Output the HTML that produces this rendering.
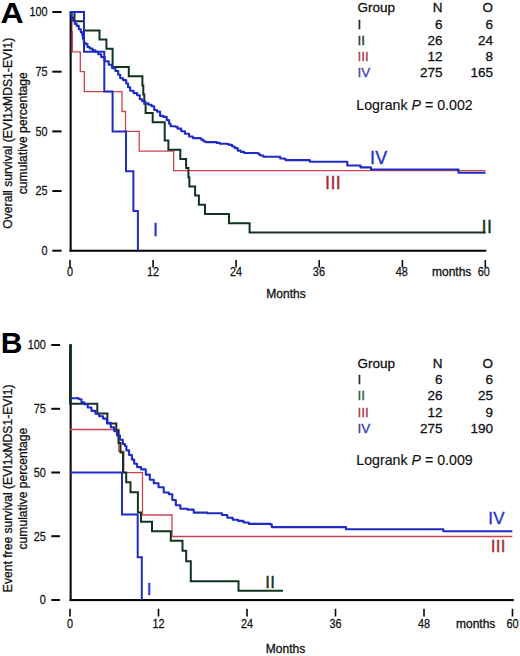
<!DOCTYPE html>
<html><head><meta charset="utf-8"><title>Survival curves</title>
<style>
html,body{margin:0;padding:0;background:#fff;width:520px;height:656px;overflow:hidden;}
svg{display:block;font-family:"Liberation Sans",sans-serif;}
.tk{font-size:12.5px;fill:#111;stroke:#111;stroke-width:0.25px;}
.ax{font-size:12px;fill:#111;stroke:#111;stroke-width:0.3px;}
.lg{font-size:13.5px;fill:#111;stroke:#111;stroke-width:0.3px;}
.lr{font-size:14.2px;fill:#111;stroke:#111;stroke-width:0.15px;}
.pl{font-size:30px;font-weight:bold;fill:#000;}
.cl{font-size:18px;letter-spacing:0.4px;}
.clb{font-size:17px;letter-spacing:0.3px;}
</style></head><body>
<svg width="520" height="656" viewBox="0 0 520 656">
<rect width="520" height="656" fill="#ffffff"/>
<text transform="translate(0.6,22.8) scale(1.07,1)" class="pl">A</text>
<path d="M71.9,12 V31.9 H72.4 V51.8 H80.3 V71.7 H84.3 V91.6 H122 V111.5 H125.5 V131.4 H139.2 V151.1 H173.6 V170.6 H485.6" fill="none" stroke="#cc4450" stroke-width="1.3"/>
<rect x="69.6" y="11.2" width="2.1" height="240.5" fill="#0a0a0a"/>
<rect x="69.6" y="249.7" width="416.7" height="2.1" fill="#0a0a0a"/>
<rect x="52.3" y="11.0" width="9.3" height="2" fill="#0a0a0a"/>
<text transform="translate(47.6,16.4) scale(0.87,1)" text-anchor="end" class="tk">100</text>
<rect x="52.3" y="70.7" width="9.3" height="2" fill="#0a0a0a"/>
<text transform="translate(47.6,76.1) scale(0.87,1)" text-anchor="end" class="tk">75</text>
<rect x="52.3" y="130.4" width="9.3" height="2" fill="#0a0a0a"/>
<text transform="translate(47.6,135.8) scale(0.87,1)" text-anchor="end" class="tk">50</text>
<rect x="52.3" y="190.0" width="9.3" height="2" fill="#0a0a0a"/>
<text transform="translate(47.6,195.4) scale(0.87,1)" text-anchor="end" class="tk">25</text>
<rect x="52.3" y="249.7" width="9.3" height="2" fill="#0a0a0a"/>
<text transform="translate(47.6,255.1) scale(0.87,1)" text-anchor="end" class="tk">0</text>
<rect x="69.2" y="260.0" width="1.6" height="7.5" fill="#0a0a0a"/>
<rect x="152.3" y="260.0" width="1.6" height="7.5" fill="#0a0a0a"/>
<rect x="235.3" y="260.0" width="1.6" height="7.5" fill="#0a0a0a"/>
<rect x="318.4" y="260.0" width="1.6" height="7.5" fill="#0a0a0a"/>
<rect x="401.6" y="260.0" width="1.6" height="7.5" fill="#0a0a0a"/>
<rect x="484.5" y="260.0" width="1.6" height="7.5" fill="#0a0a0a"/>
<text transform="translate(70.0,276.3) scale(0.87,1)" text-anchor="middle" class="tk">0</text>
<text transform="translate(153.1,276.3) scale(0.87,1)" text-anchor="middle" class="tk">12</text>
<text transform="translate(236.1,276.3) scale(0.87,1)" text-anchor="middle" class="tk">24</text>
<text transform="translate(318.9,276.3) scale(0.87,1)" text-anchor="middle" class="tk">36</text>
<text transform="translate(401.8,276.3) scale(0.87,1)" text-anchor="middle" class="tk">48</text>
<text transform="translate(483.8,276.3) scale(0.87,1)" text-anchor="middle" class="tk">60</text>
<text x="432" y="276.3" class="ax">months</text>
<text x="266.3" y="297.6" class="ax">Months</text>
<text transform="translate(12.4,133.2) rotate(-90)" text-anchor="middle" class="ax" style="font-size:12.15px">Overall survival (EVI1xMDS1-EVI1)</text>
<text transform="translate(27,133.2) rotate(-90)" text-anchor="middle" class="ax" style="font-size:12.15px">cumulative percentage</text>
<path d="M70,12 H74.5 V21.2 H84 V30.4 H99.5 V39.5 H106.4 V48.7 H112.6 V67.1 H128.8 V76.3 H142.4 V85.4 H143.3 V94.6 H144.3 V103.8 H145.6 V113 H152.7 V122.2 H164.7 V140.5 H168.4 V149.7 H180.3 V158.9 H186.1 V168.1 H188.4 V177.3 H189.4 V186.4 H195.1 V195.6 H198.9 V204.8 H205 V214 H229 V223.2 H249.6 V232.5 H485.6" fill="none" stroke="#12341e" stroke-width="2"/>
<path d="M70,12 H84 V51.8 H104.3 V91.6 H112.6 V131.4 H126 V171.2 H133.4 V211 H137.9 V250.7" fill="none" stroke="#1e2cc4" stroke-width="2"/>
<path d="M70.5,12.0 H70.8 V13.5 H71.2 H71.7 V17.6 H72.2 H73.1 V20.8 H73.9 H74.8 V23.9 H75.7 H76.7 V25.9 H77.6 H78.8 V29.2 H80.0 H80.8 V32.1 H81.5 H82.2 V35.0 H82.9 V38.8 H83.4 H83.8 V42.7 H84.3 H85.5 V44.1 H86.8 H87.5 V47.0 H88.2 H89.7 V48.5 H91.1 H92.5 V50.4 H94.0 H95.4 V51.8 H96.8 H98.2 V54.2 H99.7 H101.2 V57.1 H102.6 H104.7 V61.3 H106.7 H108.7 V64.7 H110.6 H112.0 V68.1 H113.5 H115.4 V71.0 H117.3 H118.2 V74.8 H119.2 H120.2 V78.2 H121.2 H123.1 V80.1 H125.0 H126.2 V83.5 H127.4 H128.1 V87.3 H128.8 H130.2 V90.7 H131.7 H133.6 V93.1 H135.6 H137.1 V95.2 H138.7 H139.8 V99.3 H141.0 H142.2 V101.2 H143.3 H145.2 V103.4 H147.0 H148.5 V104.8 H150.0 H151.6 V106.3 H153.2 H154.2 V110.0 H155.3 H156.9 V111.6 H158.5 H160.1 V115.9 H161.6 H163.4 V116.9 H165.3 H166.7 V120.1 H168.0 H169.1 V123.8 H170.1 H170.6 V126.2 H171.2 H175.4 V126.7 H177.5 V128.6 H179.6 H181.2 V131.2 H182.8 H184.9 V133.8 H187.0 H189.1 V136.5 H191.2 H192.8 V138.1 H194.4 H200.8 V138.6 H201.2 V139.8 H201.7 H203.4 V141.2 H205.1 H205.4 V142.1 H205.8 H215.2 V142.1 H216.6 V142.9 H217.9 H219.9 V143.8 H221.9 H227.3 V144.1 H229.0 V144.9 H230.7 H232.1 V146.5 H233.4 H234.7 V148.1 H236.0 H237.7 V150.6 H239.4 H240.8 V151.9 H242.1 H244.1 V153.0 H246.1 H257.5 V153.3 H258.8 V154.6 H260.0 H260.6 V155.5 H261.3 H263.4 V156.8 H265.4 H279.5 V156.8 H280.2 V158.5 H280.9 H284.2 V158.9 H285.5 V160.1 H286.9 H309.1 V160.1 H309.8 V161.7 H310.5 H346.1 V161.7 H347.3 V165.5 H348.5 H360.5 V165.5 V167.4 H361.0 H371.0 V167.4 V169.5 H371.5 H458.5 V169.5 V172.7 H458.7 H485.6 V172.7" fill="none" stroke="#1e2cc4" stroke-width="2.1" stroke-linejoin="round"/>
<text x="155.7" y="236" text-anchor="middle" class="cl" fill="#2232c8" stroke="#2232c8" stroke-width="0.35">I</text>
<text x="333.1" y="189" text-anchor="middle" class="cl" fill="#a8283a" stroke="#a8283a" stroke-width="0.35">III</text>
<text x="378.8" y="164" text-anchor="middle" class="cl" fill="#2232c8" stroke="#2232c8" stroke-width="0.35">IV</text>
<text x="487" y="232.7" text-anchor="middle" class="cl" fill="#12341e" stroke="#12341e" stroke-width="0.35">II</text>
<text x="357.4" y="12.4" class="lg">Group</text>
<text x="442.6" y="12.4" class="lg" text-anchor="end">N</text>
<text x="493" y="12.4" class="lg" text-anchor="end">O</text>
<text x="357.4" y="28.7" class="lg" style="fill:#111;stroke:#111">I</text>
<text x="442.6" y="28.7" class="lg" text-anchor="end">6</text>
<text x="493" y="28.7" class="lg" text-anchor="end">6</text>
<text x="357.4" y="44.9" class="lg" style="fill:#1a3424;stroke:#1a3424">II</text>
<text x="442.6" y="44.9" class="lg" text-anchor="end">26</text>
<text x="493" y="44.9" class="lg" text-anchor="end">24</text>
<text x="357.4" y="61.1" class="lg" style="fill:#b03c50;stroke:#b03c50">III</text>
<text x="442.6" y="61.1" class="lg" text-anchor="end">12</text>
<text x="493" y="61.1" class="lg" text-anchor="end">8</text>
<text x="357.4" y="77.4" class="lg" style="fill:#3a46b4;stroke:#3a46b4">IV</text>
<text x="442.6" y="77.4" class="lg" text-anchor="end">275</text>
<text x="493" y="77.4" class="lg" text-anchor="end">165</text>
<text x="356.3" y="109.5" class="lr">Logrank <tspan font-style="italic">P</tspan> = 0.002</text>
<text x="0.8" y="352.5" class="pl">B</text>
<rect x="69.6" y="344.2" width="2.1" height="256.8" fill="#0a0a0a"/>
<rect x="69.6" y="599.0" width="444.2" height="2.1" fill="#0a0a0a"/>
<rect x="51.3" y="344.0" width="8.8" height="2" fill="#0a0a0a"/>
<text transform="translate(45.8,349.4) scale(0.87,1)" text-anchor="end" class="tk">100</text>
<rect x="51.3" y="407.8" width="8.8" height="2" fill="#0a0a0a"/>
<text transform="translate(45.8,413.1) scale(0.87,1)" text-anchor="end" class="tk">75</text>
<rect x="51.3" y="471.5" width="8.8" height="2" fill="#0a0a0a"/>
<text transform="translate(45.8,476.9) scale(0.87,1)" text-anchor="end" class="tk">50</text>
<rect x="51.3" y="535.2" width="8.8" height="2" fill="#0a0a0a"/>
<text transform="translate(45.8,540.6) scale(0.87,1)" text-anchor="end" class="tk">25</text>
<rect x="51.3" y="599.0" width="8.8" height="2" fill="#0a0a0a"/>
<text transform="translate(45.8,604.4) scale(0.87,1)" text-anchor="end" class="tk">0</text>
<rect x="69.2" y="608.8" width="1.6" height="7.7" fill="#0a0a0a"/>
<rect x="157.7" y="608.8" width="1.6" height="7.7" fill="#0a0a0a"/>
<rect x="246.2" y="608.8" width="1.6" height="7.7" fill="#0a0a0a"/>
<rect x="334.7" y="608.8" width="1.6" height="7.7" fill="#0a0a0a"/>
<rect x="423.2" y="608.8" width="1.6" height="7.7" fill="#0a0a0a"/>
<rect x="511.7" y="608.8" width="1.6" height="7.7" fill="#0a0a0a"/>
<rect x="69.6" y="344.2" width="2.1" height="60" fill="#12341e"/>
<text transform="translate(70.0,627.5) scale(0.87,1)" text-anchor="middle" class="tk">0</text>
<text transform="translate(158.5,627.5) scale(0.87,1)" text-anchor="middle" class="tk">12</text>
<text transform="translate(247.0,627.5) scale(0.87,1)" text-anchor="middle" class="tk">24</text>
<text transform="translate(335.5,627.5) scale(0.87,1)" text-anchor="middle" class="tk">36</text>
<text transform="translate(424.0,627.5) scale(0.87,1)" text-anchor="middle" class="tk">48</text>
<text transform="translate(512.5,627.5) scale(0.87,1)" text-anchor="middle" class="tk">60</text>
<text x="456" y="627.5" class="ax">months</text>
<text x="265.8" y="652.8" class="ax">Months</text>
<text transform="translate(12.2,488.3) rotate(-90)" text-anchor="middle" class="ax" style="font-size:12.15px">Event free survival (EVI1xMDS1-EVI1)</text>
<text transform="translate(26.6,488.6) rotate(-90)" text-anchor="middle" class="ax" style="font-size:12.1px">cumulative percentage</text>
<path d="M70,429.5 H118.8 V451.3 H123.8 V472.6 H142.5 V515 H172 V536.5 H512.3" fill="none" stroke="#cc4450" stroke-width="1.3"/>
<path d="M70,345 V403.7 H97.3 V413.6 H107.4 V423.4 H116.3 V430.5 H118.5 V443.1 H120.5 V452.6 H123 V472.5 H126.2 V482.3 H130.5 V492.2 H137.9 V512.5 H141 V521.8 H152 V531.2 H170.8 V540.8 H182.5 V550.8 H186.2 V561.2 H190.8 V581.2 H238.5 V590.8 H283" fill="none" stroke="#12341e" stroke-width="2"/>
<path d="M70,472.5 H122 V514.5 H137.7 V557.3 H141.8 V600" fill="none" stroke="#1e2cc4" stroke-width="2"/>
<path d="M70.5,398.2 H76.8 V398.0 H78.0 V398.5 H79.0 V399.3 H80.0 H81.5 V402.2 H82.9 H84.3 V404.1 H85.8 H87.7 V407.5 H89.6 H91.5 V410.9 H93.5 H95.4 V413.8 H97.3 H99.2 V416.2 H101.2 H103.1 V418.6 H105.0 H106.9 V422.9 H108.8 H110.8 V427.2 H112.7 H114.2 V431.1 H115.6 H117.0 V435.4 H118.5 H119.9 V439.7 H121.3 H122.8 V444.0 H124.2 H124.9 V446.0 H125.6 H126.4 V450.4 H127.3 H129.1 V455.0 H130.8 H131.9 V459.6 H133.1 H134.2 V463.7 H135.4 H137.1 V467.1 H138.8 H141.2 V469.4 H143.5 H145.8 V474.6 H148.1 H149.8 V479.8 H151.5 H153.8 V483.3 H156.2 H158.5 V487.3 H160.8 H163.7 V492.5 H166.5 H168.8 V494.2 H171.2 H172.3 V500.0 H173.5 H175.8 V505.2 H178.1 H180.4 V508.7 H182.7 H187.5 V509.6 H192.3 H193.7 V512.6 H195.0 H207.1 V513.2 H219.2 H221.9 V515.0 H224.6 H227.3 V517.7 H230.0 H232.7 V519.8 H235.4 H238.1 V520.9 H240.8 H243.5 V522.5 H246.2 H248.8 V523.9 H251.5 H270.4 V524.4 H271.8 V527.1 H273.1 H345.3 V527.1 H346.0 V529.3 H346.6 H442.6 V529.3 H443.3 V531.3 H444.0 H512.3 V531.3" fill="none" stroke="#1e2cc4" stroke-width="2.1" stroke-linejoin="round"/>
<text x="149.2" y="595.3" text-anchor="middle" class="clb" fill="#2232c8" stroke="#2232c8" stroke-width="0.35">I</text>
<text x="270.3" y="587.7" text-anchor="middle" class="clb" fill="#12341e" stroke="#12341e" stroke-width="0.35">II</text>
<text x="496.6" y="524.3" text-anchor="middle" class="clb" fill="#2232c8" stroke="#2232c8" stroke-width="0.35">IV</text>
<text x="498.3" y="552" text-anchor="middle" class="clb" fill="#a8283a" stroke="#a8283a" stroke-width="0.35">III</text>
<text x="357.4" y="367.9" class="lg">Group</text>
<text x="442.6" y="367.9" class="lg" text-anchor="end">N</text>
<text x="493" y="367.9" class="lg" text-anchor="end">O</text>
<text x="357.4" y="384.2" class="lg" style="fill:#181838;stroke:#181838">I</text>
<text x="442.6" y="384.2" class="lg" text-anchor="end">6</text>
<text x="493" y="384.2" class="lg" text-anchor="end">6</text>
<text x="357.4" y="400.4" class="lg" style="fill:#2a5a40;stroke:#2a5a40">II</text>
<text x="442.6" y="400.4" class="lg" text-anchor="end">26</text>
<text x="493" y="400.4" class="lg" text-anchor="end">25</text>
<text x="357.4" y="416.6" class="lg" style="fill:#a83848;stroke:#a83848">III</text>
<text x="442.6" y="416.6" class="lg" text-anchor="end">12</text>
<text x="493" y="416.6" class="lg" text-anchor="end">9</text>
<text x="357.4" y="432.9" class="lg" style="fill:#3040b0;stroke:#3040b0">IV</text>
<text x="442.6" y="432.9" class="lg" text-anchor="end">275</text>
<text x="493" y="432.9" class="lg" text-anchor="end">190</text>
<text x="356.3" y="465.0" class="lr">Logrank <tspan font-style="italic">P</tspan> = 0.009</text>
</svg>
</body></html>
